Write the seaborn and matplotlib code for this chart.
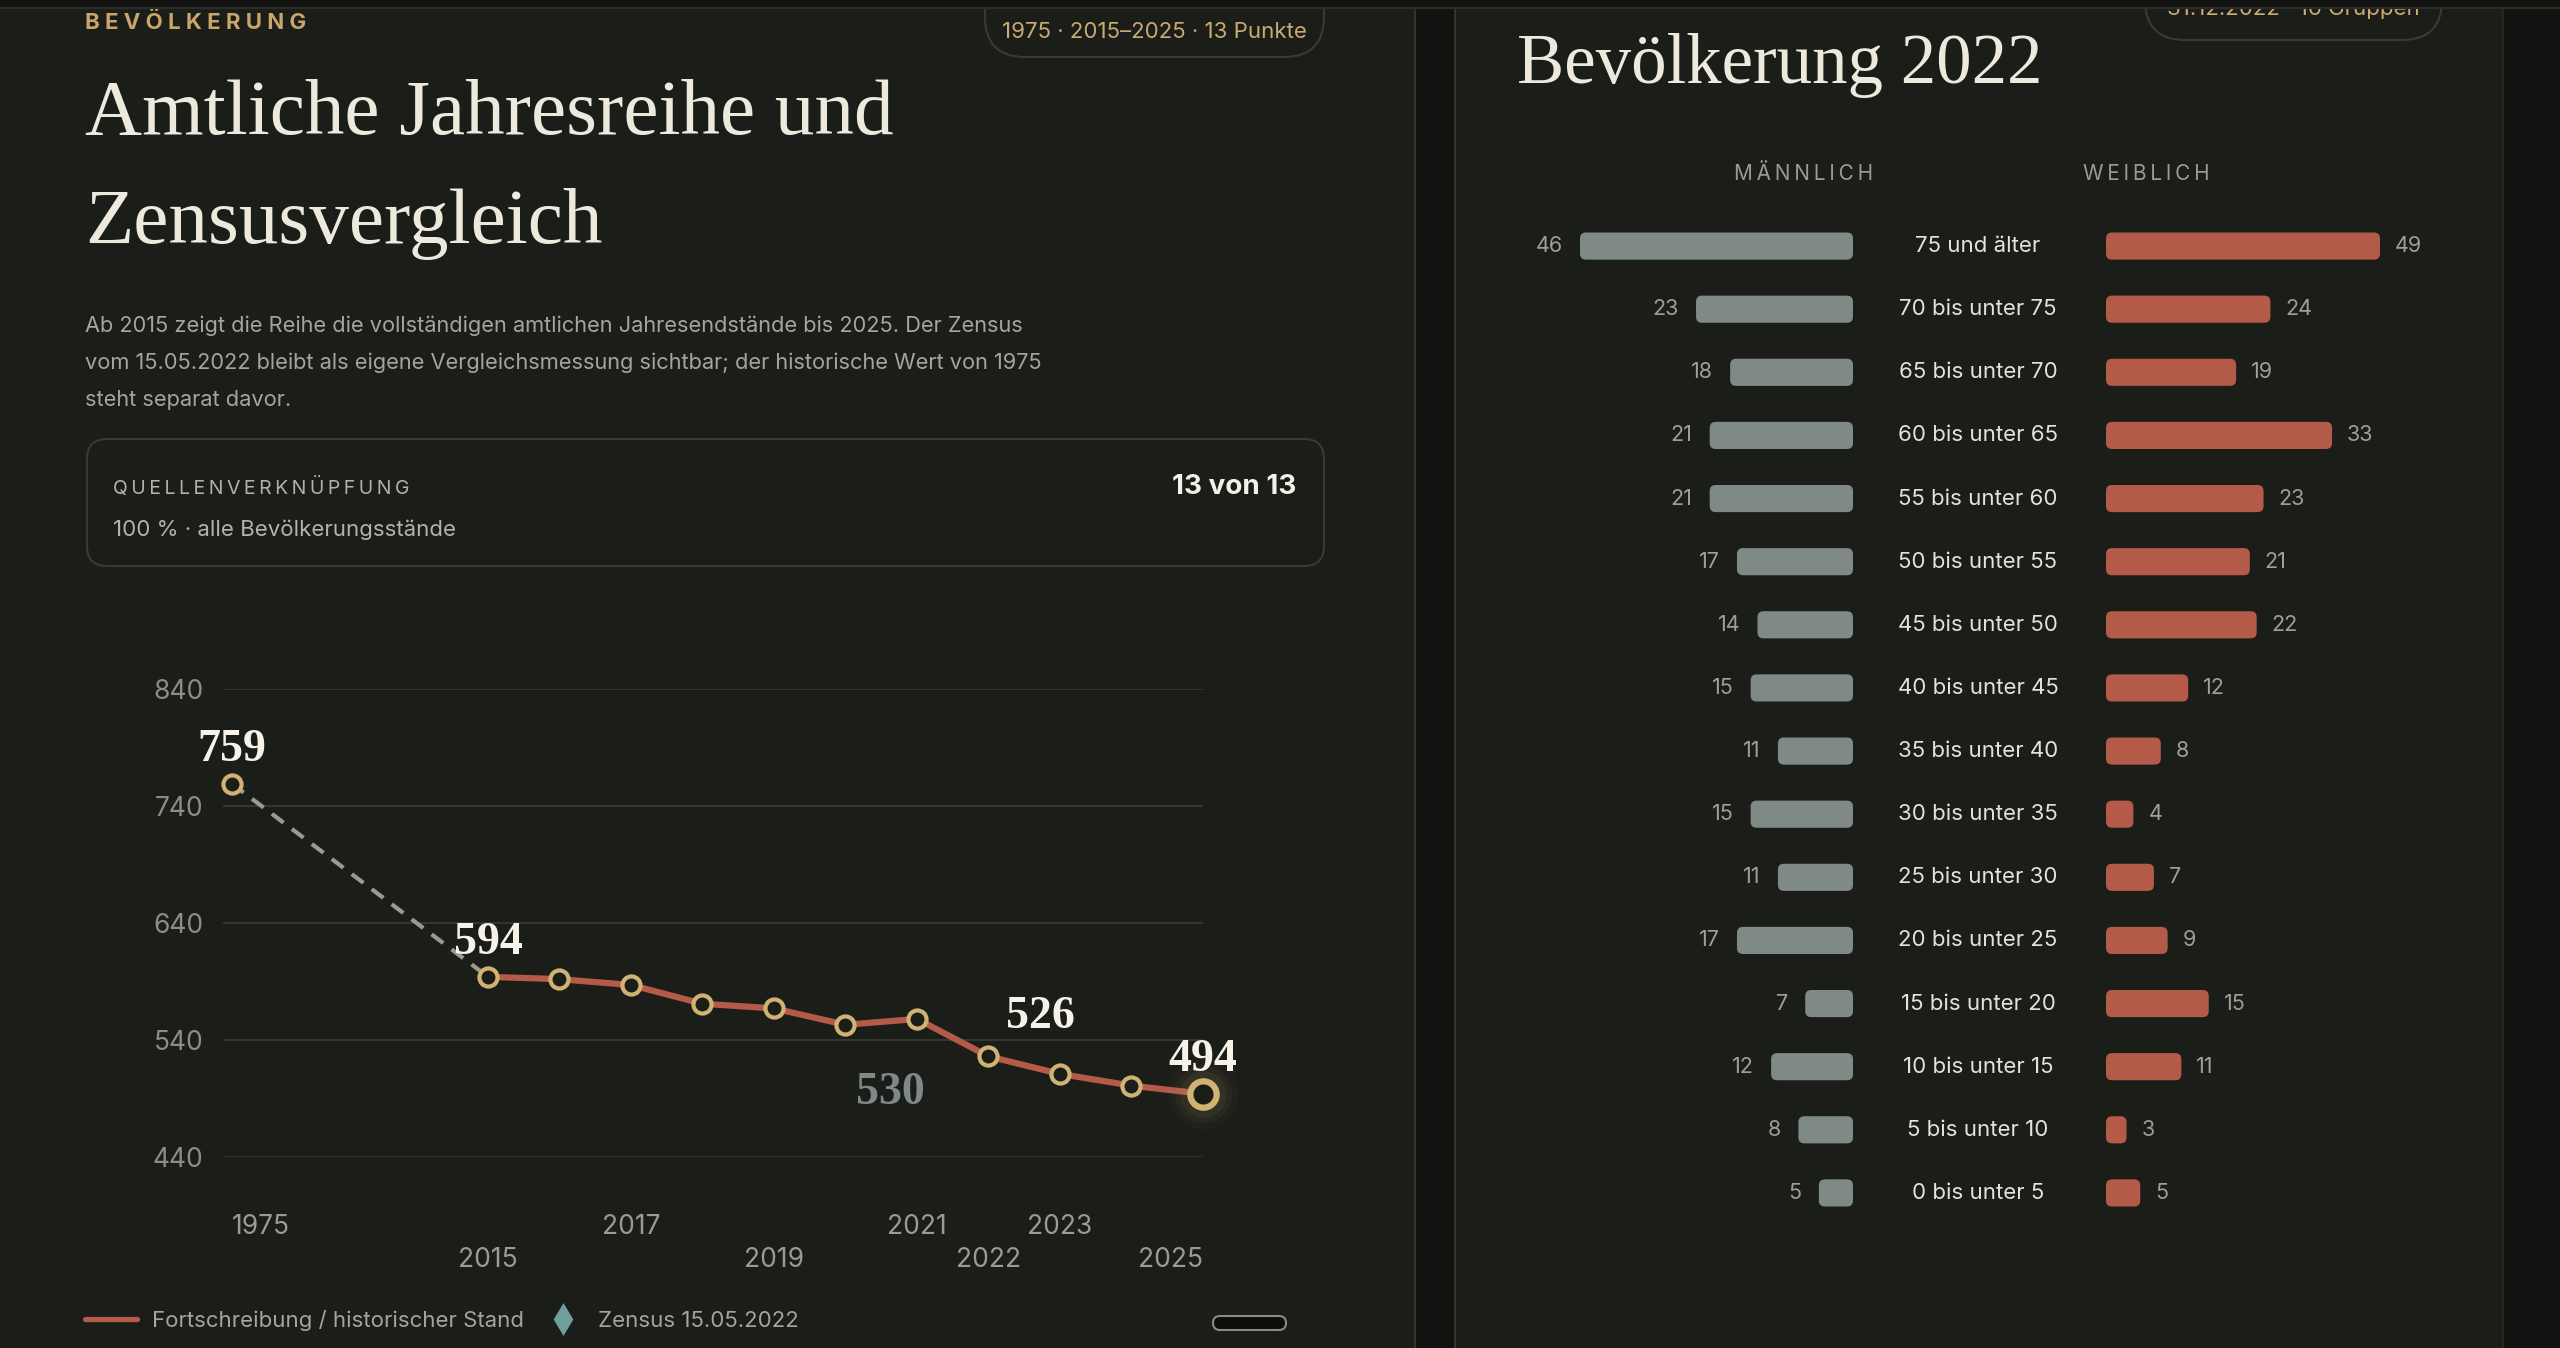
import matplotlib
matplotlib.use("Agg")
import matplotlib.pyplot as plt
from matplotlib.patches import FancyBboxPatch, Rectangle
import matplotlib.transforms as mtrans
import seaborn as sns
import pandas as pd
import numpy as np

# data: amtliche Jahresreihe (Tsd.)
years = [1975, 2015, 2016, 2017, 2018, 2019, 2020, 2021, 2022, 2023, 2024, 2025]
population = [759, 594, 592, 587, 571, 567, 553, 558, 526, 511, 501, 494]
labeled_years = [1975, 2015, 2022, 2025]
tick_years = [1975, 2015, 2017, 2019, 2021, 2022, 2023, 2025]
y_ticks = [440, 540, 640, 740, 840]
zensus_value = 530

# data: Bevölkerung 2022 nach Altersgruppen
ages = ["75 und älter", "70 bis unter 75", "65 bis unter 70", "60 bis unter 65",
        "55 bis unter 60", "50 bis unter 55", "45 bis unter 50", "40 bis unter 45",
        "35 bis unter 40", "30 bis unter 35", "25 bis unter 30", "20 bis unter 25",
        "15 bis unter 20", "10 bis unter 15", "5 bis unter 10", "0 bis unter 5"]
male = [46, 23, 18, 21, 21, 17, 14, 15, 11, 15, 11, 17, 7, 12, 8, 5]
female = [49, 24, 19, 33, 23, 21, 22, 12, 8, 4, 7, 9, 15, 11, 3, 5]

# colours
BG = "#1b1d19"
GAP = "#121311"
EDGE = "#393a35"
GOLD = "#d0b273"
RED = "#b45a48"
GREY_BAR = "#7f8a86"
TXT = "#eee9dd"
MUTED = "#a6a49c"

SANS = ["Inter", "DejaVu Sans"]
SERIF = ["Liberation Serif", "DejaVu Serif"]

sns.set_theme(style="dark")
plt.rcParams["font.family"] = SANS

W, H = 2560, 1348
fig = plt.figure(figsize=(W / 100, H / 100), dpi=100)
fig.patch.set_facecolor(GAP)

# background canvas in pixel units
bg = fig.add_axes([0, 0, 1, 1])
bg.set_xlim(0, W)
bg.set_ylim(H, 0)
bg.axis("off")
bg.set_zorder(0)


def spaced(s, sep="\u2009"):
    return sep.join(s)


def rbox(x0, y0, x1, y1, r, fc, ec, lw=1.5, z=1):
    bg.add_patch(FancyBboxPatch((x0, y0), x1 - x0, y1 - y0,
                                boxstyle=f"round,pad=0,rounding_size={r}",
                                fc=fc, ec=ec, lw=lw, zorder=z))


# panels
bg.add_patch(Rectangle((0, 0), 1415, H, fc=BG, ec="none", zorder=0))
bg.add_patch(Rectangle((1455, 0), 2503 - 1455, H, fc=BG, ec="none", zorder=0))
bg.plot([1415, 1415], [0, H], color=EDGE, lw=1.2, zorder=1)
bg.plot([1455, 1455], [0, H], color=EDGE, lw=1.2, zorder=1)
bg.plot([2503, 2503], [0, H], color="#2a2b27", lw=1.2, zorder=1)

# ---- left panel texts
bg.text(85, 29, spaced("BEVÖLKERUNG", "\u2009\u200a"), color="#c8a66a", fontsize=16,
        fontweight="bold", va="baseline", family=SANS)
rbox(985, -30, 1324, 57, 40, "none", EDGE, lw=1.5)
bg.text(1154, 38, "1975 · 2015–2025 · 13 Punkte", color="#c9aa72", fontsize=16,
        ha="center", va="baseline", family=SANS)

bg.text(85, 134, "Amtliche Jahresreihe und", color=TXT, fontsize=57,
        va="baseline", family=SERIF)
bg.text(85, 243, "Zensusvergleich", color=TXT, fontsize=57,
        va="baseline", family=SERIF)

para = ["Ab 2015 zeigt die Reihe die vollständigen amtlichen Jahresendstände bis 2025. Der Zensus",
        "vom 15.05.2022 bleibt als eigene Vergleichsmessung sichtbar; der historische Wert von 1975",
        "steht separat davor."]
for i, line in enumerate(para):
    bg.text(85, 332 + 37 * i, line, color=MUTED, fontsize=15.7, va="baseline", family=SANS)

rbox(87, 439, 1324, 566, 20, "none", EDGE, lw=1.5)
bg.text(113, 494, spaced("QUELLENVERKNÜPFUNG"), color="#b5b2aa", fontsize=14,
        va="baseline", family=SANS)
bg.text(113, 536, "100 % · alle Bevölkerungsstände", color="#b5b2aa", fontsize=16,
        va="baseline", family=SANS)
bg.text(1296, 494, "13 von 13", color="#f4f0e6", fontsize=20, fontweight="bold",
        ha="right", va="baseline", family=SANS)

# ---- line chart
GAP_SLOTS = 3.58


def slot(y):
    return y - 2015 if y >= 2015 else -GAP_SLOTS


df = pd.DataFrame({"year": years, "pop": population})
df["pos"] = [slot(y) for y in df["year"]]

ax = fig.add_axes([223 / W, 1 - 1157 / H, (1203 - 223) / W, (1157 - 689) / H])
ax.set_zorder(2)
ax.set_facecolor("none")

hist = df[df["year"].isin([1975, 2015])]
fort = df[df["year"] >= 2015]
sns.lineplot(data=hist, x="pos", y="pop", ax=ax, color="#9a9a93", lw=3,
             linestyle=(0, (3.5, 2.5)), zorder=3)
sns.lineplot(data=fort, x="pos", y="pop", ax=ax, color=RED, lw=4.5, zorder=4)

last = df.iloc[[-1]]
for s, a in [(2600, 0.03), (1700, 0.05), (1100, 0.07)]:
    ax.scatter(last["pos"], last["pop"], s=s, color=GOLD, alpha=a, lw=0, zorder=4, clip_on=False)
sns.scatterplot(data=df.iloc[:-1], x="pos", y="pop", ax=ax, s=170, color=BG,
                edgecolor=GOLD, linewidth=3, zorder=5, clip_on=False)
sns.scatterplot(data=last, x="pos", y="pop", ax=ax, s=360, color=BG,
                edgecolor=GOLD, linewidth=4.5, zorder=6, clip_on=False)

label_offsets = {1975: (0, 34), 2015: (0, 34), 2022: (52, 39), 2025: (0, 34)}
for y in labeled_years:
    idx = years.index(y)
    v = population[idx]
    ax.annotate(str(v), (slot(y), v), xytext=label_offsets[y],
                textcoords="offset pixels", ha="center", va="center", color="#f6f2e8",
                fontsize=33, fontweight="bold", family=SERIF, zorder=7)

ax.annotate(str(zensus_value), (slot(2022) + 0.37, zensus_value), xytext=(-125, -41),
            textcoords="offset pixels", ha="center", va="center", color="#7d8a87",
            fontsize=33, fontweight="bold", family=SERIF, zorder=7)

ax.set_xlim(-3.706, 10)
ax.set_ylim(440, 840)
ax.set_yticks(y_ticks)
ax.set_yticklabels([str(t) for t in y_ticks])
ax.tick_params(axis="y", length=0, pad=14, labelsize=19, labelcolor="#8e8c85")
ax.set_xticks([])
ax.grid(axis="y", color="#3b3c37", lw=1.2)
ax.grid(axis="x", visible=False)
for sp in ax.spines.values():
    sp.set_visible(False)
ax.set_xlabel("")
ax.set_ylabel("")

for i, y in enumerate(tick_years):
    ha = "left" if y == tick_years[0] else ("right" if y == tick_years[-1] else "center")
    dy = -70 if i % 2 == 0 else -103
    ax.annotate(str(y), (slot(y), 0), xycoords=("data", "axes fraction"),
                xytext=(0, dy), textcoords="offset pixels", ha=ha, va="center",
                color="#9c9a93", fontsize=19, family=SANS, annotation_clip=False)

# legend
bg.plot([85, 137], [1319, 1319], color=RED, lw=3.8, solid_capstyle="round")
bg.text(152, 1327, "Fortschreibung / historischer Stand", color=MUTED, fontsize=16,
        va="baseline", family=SANS)
bg.scatter([563], [1319], marker="d", s=280, color="#6e9f9a", lw=0, zorder=3)
bg.text(598, 1327, "Zensus 15.05.2022", color=MUTED, fontsize=16,
        va="baseline", family=SANS)
rbox(1213, 1316, 1286, 1330, 7, "#0d0e0c", "#8a8a85", lw=1.5)

# ---- right panel
rbox(2145, -40, 2442, 40, 40, "none", EDGE, lw=1.5)
bg.text(2293, 15, "31.12.2022 · 16 Gruppen", color="#c9aa72", fontsize=16,
        ha="center", va="baseline", family=SANS)
bg.text(1517, 83, "Bevölkerung 2022", color=TXT, fontsize=51,
        va="baseline", family=SERIF)
bg.text(1804, 180, spaced("MÄNNLICH", "\u200a\u200a"), color="#9c9a93", fontsize=15,
        ha="center", va="baseline", family=SANS)
bg.text(2146, 180, spaced("WEIBLICH", "\u200a\u200a"), color="#9c9a93", fontsize=15,
        ha="center", va="baseline", family=SANS)

CAP = 40
pyr = pd.DataFrame({"age": ages, "male": male, "female": female})
pyr["male_w"] = np.minimum(pyr["male"], CAP)
pyr["female_w"] = np.minimum(pyr["female"], CAP)

top, bottom = 246 - 31.5, 1193 + 31.5
ax_m = fig.add_axes([1580 / W, 1 - bottom / H, (1853 - 1580) / W, (bottom - top) / H])
ax_f = fig.add_axes([2106 / W, 1 - bottom / H, (2380 - 2106) / W, (bottom - top) / H])

px_per_unit = (1853 - 1580) / CAP
row_px = (bottom - top) / len(ages)

for a, col, colour, side in [(ax_m, "male_w", GREY_BAR, -1), (ax_f, "female_w", RED, 1)]:
    a.set_zorder(2)
    a.set_facecolor("none")
    sns.barplot(data=pyr, x=col, y="age", orient="h", color=colour, saturation=1,
                width=0.43, ax=a)
    for p in list(a.patches):
        x0, y0, w, h = p.get_x(), p.get_y(), p.get_width(), p.get_height()
        p.remove()
        r = 6 / px_per_unit
        a.add_patch(FancyBboxPatch((x0, y0), w, h,
                                   boxstyle=f"round,pad=0,rounding_size={r}",
                                   mutation_aspect=px_per_unit / row_px,
                                   fc=colour, ec="none", zorder=3))
    a.set_xlim((CAP, 0) if side < 0 else (0, CAP))
    a.set_ylim(len(ages) - 0.5, -0.5)
    a.axis("off")

for i, (m, f) in enumerate(zip(male, female)):
    ax_m.annotate(str(m), (min(m, CAP), i), xytext=(-17, 0),
                  textcoords="offset pixels", ha="right", va="center",
                  color="#a09e97", fontsize=15.5, family=SANS, annotation_clip=False)
    ax_f.annotate(str(f), (min(f, CAP), i), xytext=(15, 0),
                  textcoords="offset pixels", ha="left", va="center",
                  color="#a09e97", fontsize=15.5, family=SANS, annotation_clip=False)

trans = mtrans.blended_transform_factory(fig.transFigure, ax_m.transData)
for i, age in enumerate(ages):
    fig.text(1978 / W, i, age, transform=trans, ha="center", va="center",
             color="#e6e2d8", fontsize=16, family=SANS)

# top strip
bg.add_patch(Rectangle((0, 0), W, 7, fc="#121311", ec="none", zorder=10))
bg.plot([0, W], [7.5, 7.5], color="#2c2d29", lw=1.5, zorder=11)

fig.savefig("out.png", dpi=100, facecolor=fig.get_facecolor())
